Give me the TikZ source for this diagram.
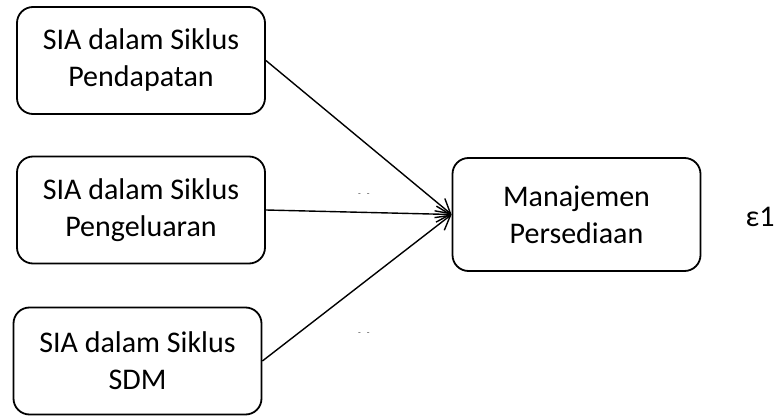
\documentclass[tikz,border=0pt]{standalone}
\usepackage{fontspec}
\setmainfont{Carlito}
\usetikzlibrary{arrows.meta}
\tikzset{
  varbox/.style={draw, line width=1.8pt, rounded corners=16pt, align=center,
    minimum width=248pt, minimum height=107pt, font=\fontsize{30}{37}\selectfont},
  pathline/.style={line width=1.4pt, -{Straight Barb[length=14pt,width=16pt,line width=1.4pt]}},
  tick/.style={font=\fontsize{9}{10}\selectfont, text=black!70, inner sep=0pt}
}
\begin{document}
\begin{tikzpicture}[x=1pt,y=-1pt]
      \useasboundingbox (0,0) rectangle (777,417);
      \draw
        (141,60.5) node[varbox] (pend){SIA dalam Siklus\\Pendapatan}
        (141,210) node[varbox] (peng){SIA dalam Siklus\\Pengeluaran}
        (137.5,361) node[varbox] (sdm){SIA dalam Siklus\\SDM}
        (576.5,214.5) node[varbox, minimum height=113pt] (mp){Manajemen\\Persediaan}
        (760,217) node[font=\fontsize{30}{37}\selectfont] (eps){ε1}
        (364,195) node[tick] (gapa){-\hspace{6pt}-}
        (364,334) node[tick] (gapb){-\hspace{6pt}-};
      \begin{scope}[pathline]
        \draw (pend.east) to (mp.west);
        \draw (peng.east) to (mp.west);
        \draw (sdm.east) to (mp.west);
      \end{scope}
    \end{tikzpicture}
\end{document}
